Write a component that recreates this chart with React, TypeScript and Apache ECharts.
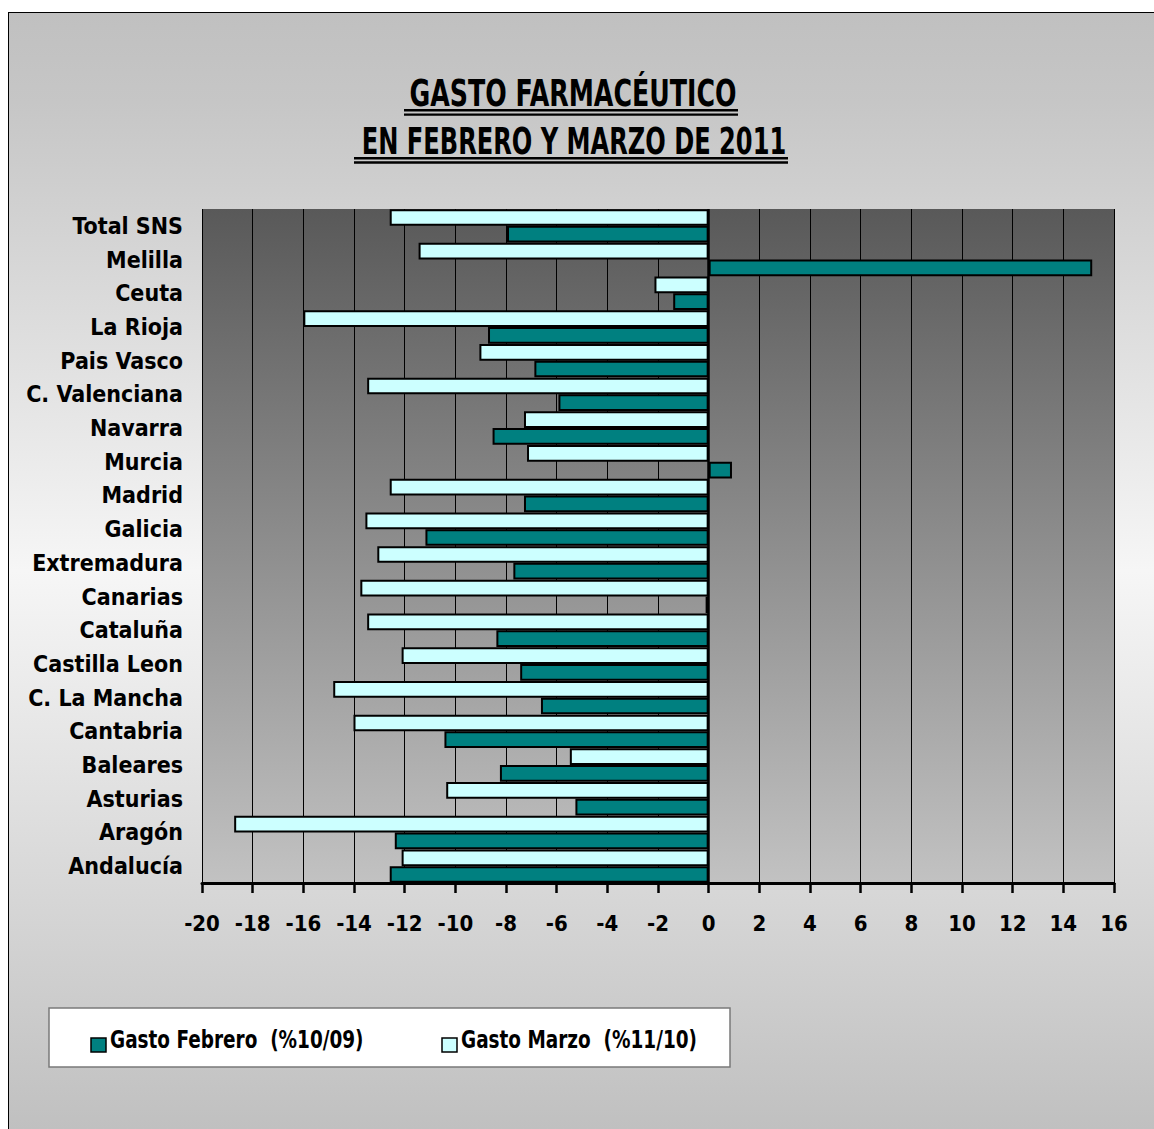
import React, { useEffect, useRef } from "react";
import * as echarts from "echarts";

const categories = [
  "Andalucía", "Aragón", "Asturias", "Baleares", "Cantabria", "C. La Mancha",
  "Castilla Leon", "Cataluña", "Canarias", "Extremadura", "Galicia", "Madrid",
  "Murcia", "Navarra", "C. Valenciana", "Pais Vasco", "La Rioja", "Ceuta",
  "Melilla", "Total SNS",
];
const gastoFebrero = [
  -12.59, -12.39, -5.26, -8.24, -10.43, -6.62, -7.44, -8.38, -0.12, -7.71,
  -11.18, -7.29, 0.92, -8.53, -5.93, -6.88, -8.71, -1.4, 15.14, -7.96,
];
const gastoMarzo = [
  -12.12, -18.73, -10.36, -5.48, -14.02, -14.82, -12.12, -13.48, -13.75, -13.08,
  -13.55, -12.59, -7.17, -7.29, -13.48, -9.05, -16.0, -2.14, -11.45, -12.59,
];
const seriesNames = ["Gasto Febrero  (%10/09)", "Gasto Marzo  (%11/10)"];
const seriesColors = ["#008080", "#ccffff"];
const titleLines = ["GASTO FARMACÉUTICO", "EN FEBRERO Y MARZO DE 2011"];
const xMin = -20;
const xMax = 16;
const xStep = 2;

const FONT = "'DejaVu Sans Condensed', 'Liberation Sans Narrow', sans-serif";

export default function App() {
  const ref = useRef<HTMLDivElement>(null);
  useEffect(() => {
    if (!ref.current) return;
    const chart = echarts.init(ref.current, null, { renderer: "svg" });
    const barStyle = (color: string) => ({ color, borderColor: "#000", borderWidth: 2 });
    const titleText = (text: string, x: number, y: number, sx: number) => ({
      type: "text",
      x,
      y,
      scaleX: sx,
      style: {
        text, x: 0, y: 0, align: "center", verticalAlign: "middle",
        fontSize: 37, fontWeight: "bold", fontFamily: FONT, fill: "#000",
      },
    });
    const legendItem = (i: number, iconX: number) => [
      {
        type: "rect",
        shape: { x: iconX, y: 1038, width: 15, height: 14 },
        style: { fill: seriesColors[i], stroke: "#000", lineWidth: 1.5 },
      },
      {
        type: "text",
        x: iconX + 19,
        y: 1039,
        scaleX: 0.82,
        style: {
          text: seriesNames[i], x: 0, y: 0, align: "left", verticalAlign: "middle",
          fontSize: 25, fontWeight: "bold", fontFamily: FONT, fill: "#000",
        },
      },
    ];
    chart.setOption({
      animation: false,
      backgroundColor: "transparent",
      graphic: [
        titleText(titleLines[0], 573, 93, 0.76),
        { type: "rect", shape: { x: 404, y: 109, width: 334, height: 2.4 }, style: { fill: "#000" } },
        { type: "rect", shape: { x: 404, y: 113.4, width: 334, height: 2.4 }, style: { fill: "#000" } },
        titleText(titleLines[1], 574, 141, 0.725),
        { type: "rect", shape: { x: 354, y: 157, width: 434, height: 2.6 }, style: { fill: "#000" } },
        { type: "rect", shape: { x: 354, y: 161.3, width: 434, height: 2.4 }, style: { fill: "#000" } },
        {
          type: "rect",
          shape: { x: 49, y: 1008, width: 681, height: 59 },
          style: { fill: "#fff", stroke: "#7a7a7a", lineWidth: 1.5 },
        },
        ...legendItem(0, 91),
        ...legendItem(1, 442),
      ],
      grid: {
        left: 202, right: 40, top: 209, bottom: 246,
        outerBoundsMode: "none",
        containLabel: false,
        show: true,
        borderWidth: 0,
        backgroundColor: new echarts.graphic.LinearGradient(0, 0, 0, 1, [
          { offset: 0, color: "#595959" },
          { offset: 1, color: "#c2c2c2" },
        ]),
      },
      xAxis: {
        type: "value",
        min: xMin,
        max: xMax,
        interval: xStep,
        axisLine: { show: true, lineStyle: { color: "#000", width: 3 } },
        axisTick: { show: true, length: 10, lineStyle: { color: "#000", width: 2.5 } },
        axisLabel: {
          margin: 29, fontFamily: FONT, fontWeight: "bold", fontSize: 22, color: "#000",
        },
        splitLine: { show: true, lineStyle: { color: "#000", width: 1 } },
      },
      yAxis: {
        type: "category",
        data: categories,
        axisLine: { show: false },
        axisTick: { show: false },
        axisLabel: {
          interval: 0, margin: 19, fontFamily: FONT, fontWeight: "bold", fontSize: 23, color: "#000",
        },
        splitLine: { show: false },
      },
      series: [
        {
          name: seriesNames[1],
          type: "bar",
          data: gastoMarzo,
          barGap: "0%",
          barCategoryGap: "1%",
          itemStyle: barStyle(seriesColors[1]),
          markLine: {
            silent: true,
            symbol: "none",
            label: { show: false },
            lineStyle: { color: "#000", width: 2.5, type: "solid" },
            data: [{ xAxis: 0 }],
          },
        },
        {
          name: seriesNames[0],
          type: "bar",
          data: gastoFebrero,
          barGap: "0%",
          barCategoryGap: "1%",
          itemStyle: barStyle(seriesColors[0]),
        },
      ],
    });
    return () => chart.dispose();
  }, []);
  return (
    <>
      <div
        style={{
          position: "fixed", left: 8, top: 12, width: 1146, height: 1117,
          boxSizing: "border-box", borderLeft: "1.5px solid #000", borderTop: "1.5px solid #000",
          background: "linear-gradient(to bottom, #c0c0c0 0%, #c6c6c6 8%, #f6f6f6 50%, #c0c0c0 100%)",
        }}
      />
      <div ref={ref} style={{ position: "fixed", left: 0, top: 0, width: 1154, height: 1129 }} />
    </>
  );
}
